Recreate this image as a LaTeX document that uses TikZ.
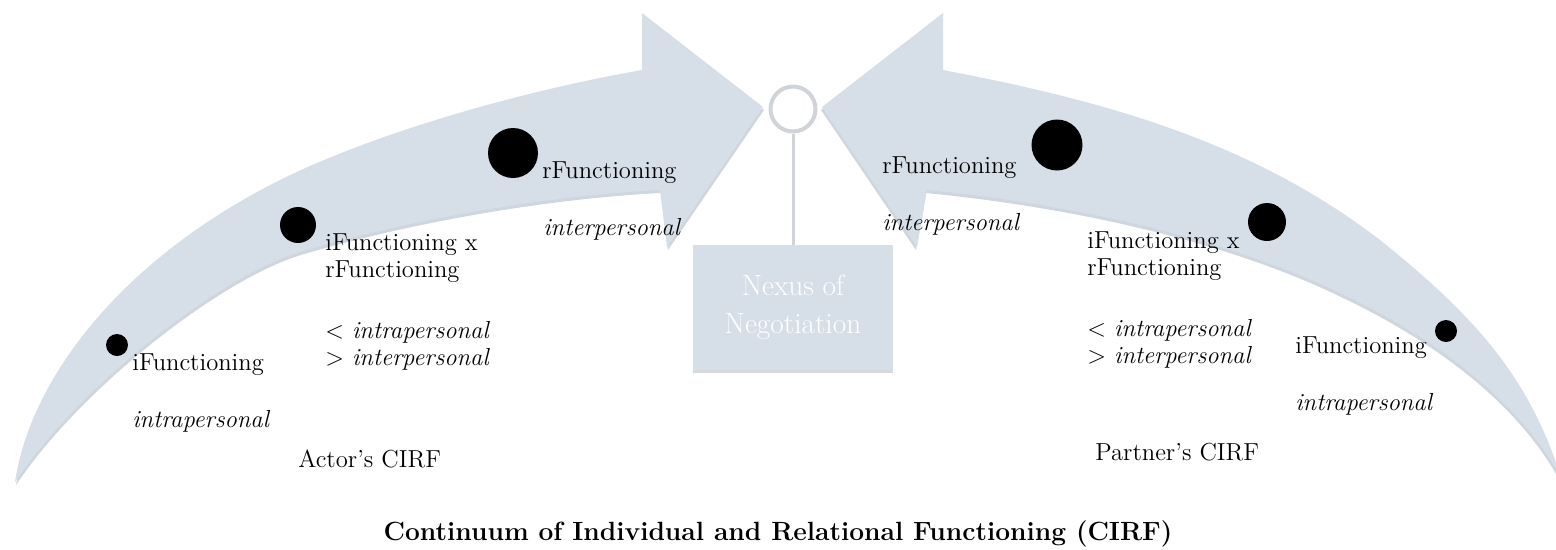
\documentclass[tikz,border=0pt]{standalone}
\usepackage{fontspec}
\usetikzlibrary{positioning,shadows}

\definecolor{bandblue}{RGB}{214,222,232}
\definecolor{bandshade}{RGB}{188,196,206}
\definecolor{hubgrey}{RGB}{208,212,216}

\tikzset{
  band/.style={fill=bandblue, draw=none},
  bandshadow/.style={fill=bandshade, draw=none, opacity=0.7},
  dot/.style={circle, fill=black, inner sep=0pt},
  lbl/.style={anchor=base west, inner sep=0pt, align=left, font=\fontsize{14}{15.3}\selectfont},
  ilbl/.style={lbl, font=\fontsize{14}{15.3}\selectfont\itshape},
  hub/.style={circle, draw=hubgrey, line width=0.08cm, fill=white, minimum size=0.9cm, inner sep=0pt},
  hubline/.style={draw=hubgrey, line width=0.06cm},
  nexus/.style={rectangle, fill=bandblue, minimum width=4cm, minimum height=2.5cm, text=white,
    align=center, font=\fontsize{16.7}{21.5}\selectfont,
    drop shadow={opacity=0.3, shadow xshift=0pt, shadow yshift=-0.06cm}},
  titlelbl/.style={anchor=base, inner sep=0pt, font=\fontsize{15}{16}\selectfont\bfseries}
}

% outlines of the two curved arrows (pixel grid, y downwards)
\newcommand{\actorarrow}{(15,482) .. controls (30,380) and (120,260) .. (280,180)
  .. controls (360,140) and (500,95) .. (642,70)
  -- (642,13) -- (763,107) -- (667,247) -- (660,190)
  .. controls (540,196) and (400,222) .. (300,252)
  .. controls (220,276) and (80,385) .. (15,482) -- cycle}
\newcommand{\partnerarrow}{(822,107) -- (943,13) -- (943,70)
  .. controls (1100,100) and (1250,140) .. (1380,240)
  .. controls (1480,320) and (1530,380) .. (1562,480)
  .. controls (1525,410) and (1450,345) .. (1340,293)
  .. controls (1230,240) and (1080,205) .. (927,190)
  -- (917,247) -- cycle}

\begin{document}
\begin{tikzpicture}[x=0.02cm, y=-0.02cm]
    \useasboundingbox (0,0) rectangle (1556,549);

    % Curved arrows, with a soft edge below
    \path[bandshadow, shift={(1,3)}] \actorarrow;
    \path[band] \actorarrow;
    \path[bandshadow, shift={(-1,3)}] \partnerarrow;
    \path[band] \partnerarrow;

    % Nexus of negotiation
    \node[hub] (hub) at (793,109) {};
    \node[nexus] (nexus) at (793,307.5) {Nexus of\\Negotiation};
    \draw[hubline] (hub) -- (nexus);

    % Actor's side (two-line labels sit on their last baseline)
    \node[dot, minimum size=0.44cm] (ldotA) at (117,345) {};
    \node[dot, minimum size=0.72cm] (ldotB) at (298,225) {};
    \node[dot, minimum size=1cm] (ldotC) at (513,153) {};

    \node[lbl] (lrF) at (542,178) {rFunctioning};
    \node[ilbl] (lrFi) at (543,235) {interpersonal};
    \node[lbl] (lmix) at (325,277) {iFunctioning x\\rFunctioning};
    \node[lbl] (lmixi) at (325,365) {< \textit{intrapersonal}\\> \textit{interpersonal}};
    \node[lbl] (liF) at (132,370) {iFunctioning};
    \node[ilbl] (liFi) at (132,427) {intrapersonal};
    \node[lbl] (actor) at (298,467) {Actor’s CIRF};

    % Partner's side
    \node[dot, minimum size=1.02cm] (rdotC) at (1057,145) {};
    \node[dot, minimum size=0.76cm] (rdotB) at (1267,222) {};
    \node[dot, minimum size=0.44cm] (rdotA) at (1446,331) {};

    \node[lbl] (rrF) at (882,173) {rFunctioning};
    \node[ilbl] (rrFi) at (882,230) {interpersonal};
    \node[lbl] (rmix) at (1087,275) {iFunctioning x\\rFunctioning};
    \node[lbl] (rmixi) at (1087,363) {< \textit{intrapersonal}\\> \textit{interpersonal}};
    \node[lbl] (riF) at (1295,353) {iFunctioning};
    \node[ilbl] (riFi) at (1295,410) {intrapersonal};
    \node[lbl] (partner) at (1095,460) {Partner’s CIRF};

    % Caption
    \node[titlelbl] (title) at (778,540) {Continuum of Individual and Relational Functioning (CIRF)};
\end{tikzpicture}
\end{document}
